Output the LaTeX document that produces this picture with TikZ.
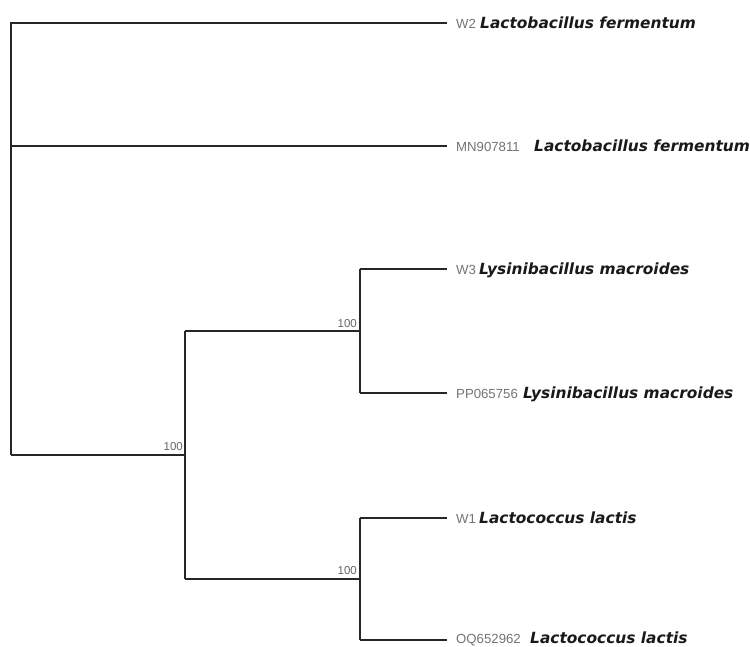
\documentclass[tikz,border=0pt]{standalone}
\usepackage{fontspec}
\setmainfont{Liberation Sans}
\newfontfamily\specfont{DejaVu Sans}
\begin{document}
\begin{tikzpicture}[x=1pt,y=-1pt,
  branch/.style={draw=black!85,line width=1.2pt},
  acc/.style={anchor=base west,inner sep=0pt,text=black!55,font=\fontsize{13.2}{15}\selectfont},
  spec/.style={anchor=base west,inner sep=0pt,text=black!90,font=\specfont\bfseries\itshape\fontsize{15.4}{17}\selectfont},
  boot/.style={anchor=base east,inner sep=0pt,text=black!60,font=\fontsize{11.5}{13}\selectfont}]
\useasboundingbox (0,0) rectangle (750,646);
% nodes of the tree
\coordinate (root) at (11,455);
\coordinate (rtop) at (11,23);
\coordinate (rmid) at (11,146);
\coordinate (n1) at (185,455);
\coordinate (n1t) at (185,331);
\coordinate (n1b) at (185,579);
\coordinate (n2) at (360,331);
\coordinate (n3) at (360,579);
\coordinate (lw2) at (447,23);
\coordinate (lmn) at (447,146);
\coordinate (lw3) at (447,269);
\coordinate (lpp) at (447,393);
\coordinate (lw1) at (447,518);
\coordinate (loq) at (447,640);
% branches
\draw[branch] (root) -- (rtop) -- (lw2);
\draw[branch] (rmid) -- (lmn);
\draw[branch] (root) -- (n1);
\draw[branch] (n1t) -- (n1b);
\draw[branch] (n1t) -- (n2);
\draw[branch] (n1b) -- (n3);
\draw[branch] (n2 |- lw3) -- (n2 |- lpp);
\draw[branch] (n2 |- lw3) -- (lw3);
\draw[branch] (n2 |- lpp) -- (lpp);
\draw[branch] (n3 |- lw1) -- (n3 |- loq);
\draw[branch] (n3 |- lw1) -- (lw1);
\draw[branch] (n3 |- loq) -- (loq);
% bootstrap values
\node[boot] (b1) at (183,450) {100};
\node[boot] (b2) at (357,327) {100};
\node[boot] (b3) at (357,574) {100};
% leaf labels
\node[acc] (a1) at (456,28) {W2};
\node[spec] (s1) at (480,28) {Lactobacillus fermentum};
\node[acc] (a2) at (456,151) {MN907811};
\node[spec] (s2) at (534,151) {Lactobacillus fermentum};
\node[acc] (a3) at (456,274) {W3};
\node[spec] (s3) at (479,274) {Lysinibacillus macroides};
\node[acc] (a4) at (456,398) {PP065756};
\node[spec] (s4) at (523,398) {Lysinibacillus macroides};
\node[acc] (a5) at (456,523) {W1};
\node[spec] (s5) at (479,523) {Lactococcus lactis};
\node[acc] (a6) at (456,643) {OQ652962};
\node[spec] (s6) at (530,643) {Lactococcus lactis};
\end{tikzpicture}
\end{document}
